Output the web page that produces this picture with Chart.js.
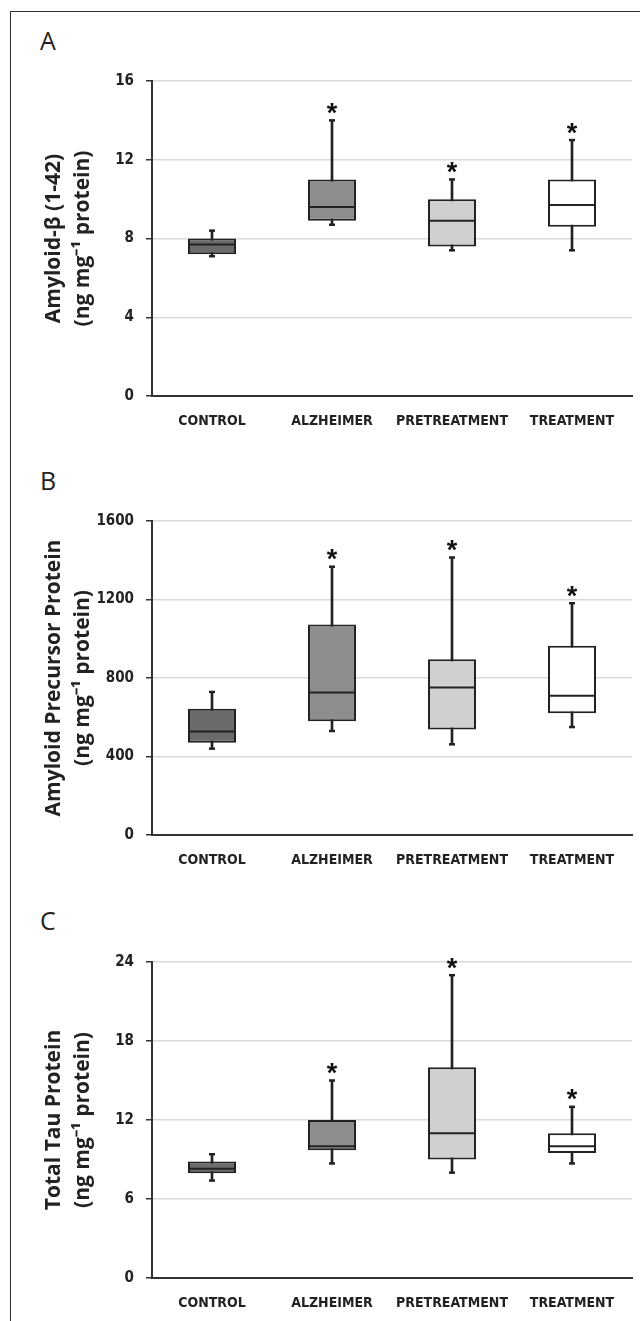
<!DOCTYPE html>
<html>
<head>
<meta charset="utf-8">
<script src="https://cdn.jsdelivr.net/npm/chart.js@4.4.1/dist/chart.umd.min.js"></script>
<style>
    html, body { margin: 0; padding: 0; background: #fff; }
    body { width: 640px; height: 1321px; position: relative; overflow: hidden; }
    .frame { position: absolute; left: 10px; top: 11px; width: 640px; height: 1320px;
             border-left: 1.5px solid #333; border-top: 1.5px solid #333; }
    .letter { position: absolute; left: 40px; font: 400 25px/25px 'Open Sans', sans-serif; color: #222; }
    canvas { position: absolute; left: 0; }
</style>
</head>
<body>
<div class="frame"></div>
<div class="letter" style="top:27.6px">A</div>
<div class="letter" style="top:467.6px">B</div>
<div class="letter" style="top:907.6px">C</div>
<canvas id="chartA" width="640" height="380" style="top:60px"></canvas>
<canvas id="chartB" width="640" height="380" style="top:500px"></canvas>
<canvas id="chartC" width="640" height="381" style="top:940px"></canvas>

<script>
// --- Dados ---
const categories = ['CONTROL', 'ALZHEIMER', 'PRETREATMENT', 'TREATMENT'];
const significant = [false, true, true, true];
const boxColors = ['#6b6b6b', '#8e8e8e', '#d0d0d0', '#ffffff'];

// A: Amyloid-β (1-42)
const amyloidMin = [7.1, 8.7, 7.4, 7.4];
const amyloidQ1 = [7.2, 8.9, 7.6, 8.6];
const amyloidMedian = [7.7, 9.6, 8.9, 9.7];
const amyloidQ3 = [8.0, 11.0, 10.0, 11.0];
const amyloidMax = [8.4, 14.0, 11.0, 13.0];
const amyloidTicks = [0, 4, 8, 12, 16];

// B: Amyloid Precursor Protein
const appMin = [440, 530, 462, 550];
const appQ1 = [470, 580, 537, 620];
const appMedian = [528, 726, 751, 710];
const appQ3 = [643, 1072, 895, 964];
const appMax = [729, 1367, 1414, 1181];
const appTicks = [0, 400, 800, 1200, 1600];

// C: Total Tau Protein
const tauMin = [7.4, 8.7, 8.0, 8.7];
const tauQ1 = [7.95, 9.7, 9.0, 9.5];
const tauMedian = [8.3, 10.0, 11.0, 10.0];
const tauQ3 = [8.85, 12.0, 16.0, 11.0];
const tauMax = [9.4, 15.0, 23.0, 13.0];
const tauTicks = [0, 6, 12, 18, 24];

const unitLine = '(ng mg\u207B\u00B9 protein)';
const tickFont = { family: "'DejaVu Sans Condensed', sans-serif", weight: 'bold', size: 15 };
const labelFont = { family: "'DejaVu Sans Condensed', sans-serif", weight: 'bold', size: 14 };

// mediana, bigodes e asteriscos
const boxDetails = {
    id: 'boxDetails',
    afterDatasetsDraw(chart, args, opts) {
        const ctx = chart.ctx;
        const y = chart.scales.y;
        const meta = chart.getDatasetMeta(1);
        ctx.save();
        ctx.strokeStyle = '#222';
        ctx.fillStyle = '#111';
        meta.data.forEach((bar, i) => {
            const half = bar.width / 2;
            const ym = y.getPixelForValue(opts.medians[i]);
            ctx.lineWidth = 2;
            ctx.beginPath();
            ctx.moveTo(bar.x - half + 1, ym);
            ctx.lineTo(bar.x + half - 1, ym);
            ctx.stroke();

            ctx.lineWidth = 2.5;
            [opts.mins[i], opts.maxs[i]].forEach(v => {
                const yc = y.getPixelForValue(v);
                ctx.beginPath();
                ctx.moveTo(bar.x - 3, yc);
                ctx.lineTo(bar.x + 3, yc);
                ctx.stroke();
            });

            if (significant[i]) {
                ctx.font = "bold 27px 'Liberation Sans', sans-serif";
                ctx.textAlign = 'center';
                ctx.textBaseline = 'alphabetic';
                const m = ctx.measureText('*');
                const cy = y.getPixelForValue(opts.maxs[i]) - 12;
                ctx.fillText('*', bar.x, cy + (m.actualBoundingBoxAscent - m.actualBoundingBoxDescent) / 2);
            }
        });
        ctx.restore();
    }
};

function makePanel(canvasId, titleLines, tickValues, mins, q1s, medians, q3s, maxs, padTop, xHeight) {
    const ctx = document.getElementById(canvasId).getContext('2d');
    return new Chart(ctx, {
        type: 'bar',
        data: {
            labels: categories,
            datasets: [{
                // bigodes
                data: categories.map((c, i) => [mins[i], maxs[i]]),
                backgroundColor: '#222',
                borderWidth: 0,
                barThickness: 2,
                grouped: false,
                order: 2
            }, {
                // caixas
                data: categories.map((c, i) => [q1s[i], q3s[i]]),
                backgroundColor: boxColors,
                borderColor: '#222',
                borderWidth: 2,
                borderSkipped: false,
                barPercentage: 0.4,
                categoryPercentage: 1.0,
                grouped: false,
                order: 1
            }]
        },
        options: {
            responsive: false,
            animation: false,
            events: [],
            layout: { padding: { top: padTop, right: 8, left: 0, bottom: 0 } },
            plugins: {
                legend: { display: false },
                tooltip: { enabled: false },
                boxDetails: { mins: mins, maxs: maxs, medians: medians }
            },
            scales: {
                x: {
                    grid: { display: false, drawTicks: false },
                    border: { display: true, color: '#333', width: 2 },
                    ticks: { color: '#222', font: labelFont, padding: 17, maxRotation: 0, autoSkip: false },
                    afterFit: s => { s.height = xHeight; }
                },
                y: {
                    min: tickValues[0],
                    max: tickValues[tickValues.length - 1],
                    afterBuildTicks: s => { s.ticks = tickValues.map(v => ({ value: v })); },
                    grid: { color: '#d9d9d9', lineWidth: 1.5, tickColor: '#333', tickLength: 6, drawTicks: true },
                    border: { display: true, color: '#333', width: 2 },
                    ticks: { color: '#222', font: tickFont, padding: 12, callback: v => String(v) },
                    title: {
                        display: true,
                        text: titleLines,
                        color: '#222',
                        font: { family: "'Open Sans', sans-serif", weight: 'bold', size: 21, lineHeight: 1.4 },
                        padding: { top: 39, bottom: 0 }
                    },
                    afterFit: s => { s.width = 152; }
                }
            }
        },
        plugins: [boxDetails]
    });
}

makePanel('chartA', ['Amyloid-\u03B2 (1-42)', unitLine], amyloidTicks,
    amyloidMin, amyloidQ1, amyloidMedian, amyloidQ3, amyloidMax, 19.3, 44);
makePanel('chartB', ['Amyloid Precursor Protein', unitLine], appTicks,
    appMin, appQ1, appMedian, appQ3, appMax, 19, 45);
makePanel('chartC', ['Total Tau Protein', unitLine], tauTicks,
    tauMin, tauQ1, tauMedian, tauQ3, tauMax, 22, 43);
</script>
</body>
</html>
